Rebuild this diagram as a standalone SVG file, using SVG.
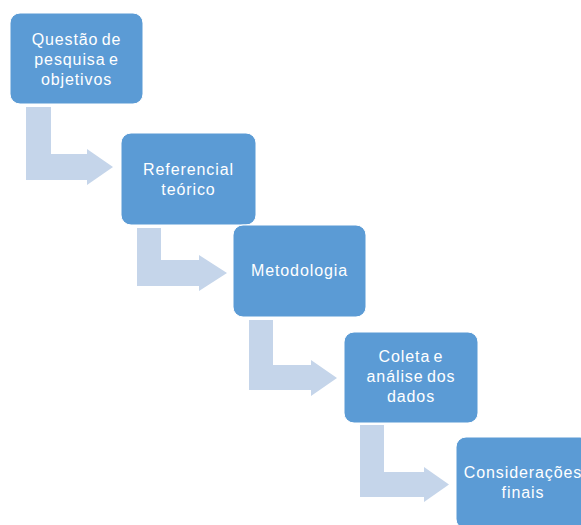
<svg xmlns="http://www.w3.org/2000/svg" width="581" height="525" viewBox="0 0 581 525">
<style>
.box{fill:#5B9BD5;stroke:#FFFFFF;stroke-width:1}
.arr{fill:#C5D5EA;stroke:none}
.t{font-family:"Liberation Sans",Arial,sans-serif;font-size:16px;fill:#FFFFFF;text-anchor:middle;letter-spacing:0.9px;word-spacing:-2px}
</style>
<rect width="581" height="525" fill="#FFFFFF"/>
<g id="connectors">
<path class="arr" d="M26,107 H51 V154 H87 V149 L113,167 L87,185 V180 H26 Z"/>
<path class="arr" d="M137,228 H161 V260 H199 V255 L227,273 L199,291 V286 H137 Z"/>
<path class="arr" d="M249,320 H273 V365 H311 V360 L337,378 L311,396 V390 H249 Z"/>
<path class="arr" d="M360,425 H384 V472 H424 V467 L449,484.5 L424,502 V497 H360 Z"/>
</g>
<g id="n1">
<rect class="box" x="10" y="13" width="133" height="91" rx="10"/>
<text class="t"><tspan x="76.5" y="45">Questão de</tspan><tspan x="76.5" y="65">pesquisa e</tspan><tspan x="76.5" y="85">objetivos</tspan></text>
</g>
<g id="n2">
<rect class="box" x="121" y="133" width="135" height="92" rx="10"/>
<text class="t"><tspan x="188.5" y="175">Referencial</tspan><tspan x="188.5" y="195">teórico</tspan></text>
</g>
<g id="n3">
<rect class="box" x="233" y="225" width="133" height="92" rx="10"/>
<text class="t" x="299.5" y="276">Metodologia</text>
</g>
<g id="n4">
<rect class="box" x="344" y="332" width="134" height="91" rx="10"/>
<text class="t"><tspan x="411" y="362">Coleta e</tspan><tspan x="411" y="382">análise dos</tspan><tspan x="411" y="402">dados</tspan></text>
</g>
<g id="n5">
<rect class="box" x="456" y="437" width="134" height="92" rx="10"/>
<text class="t"><tspan x="523" y="478">Considerações</tspan><tspan x="523" y="498">finais</tspan></text>
</g>
</svg>
